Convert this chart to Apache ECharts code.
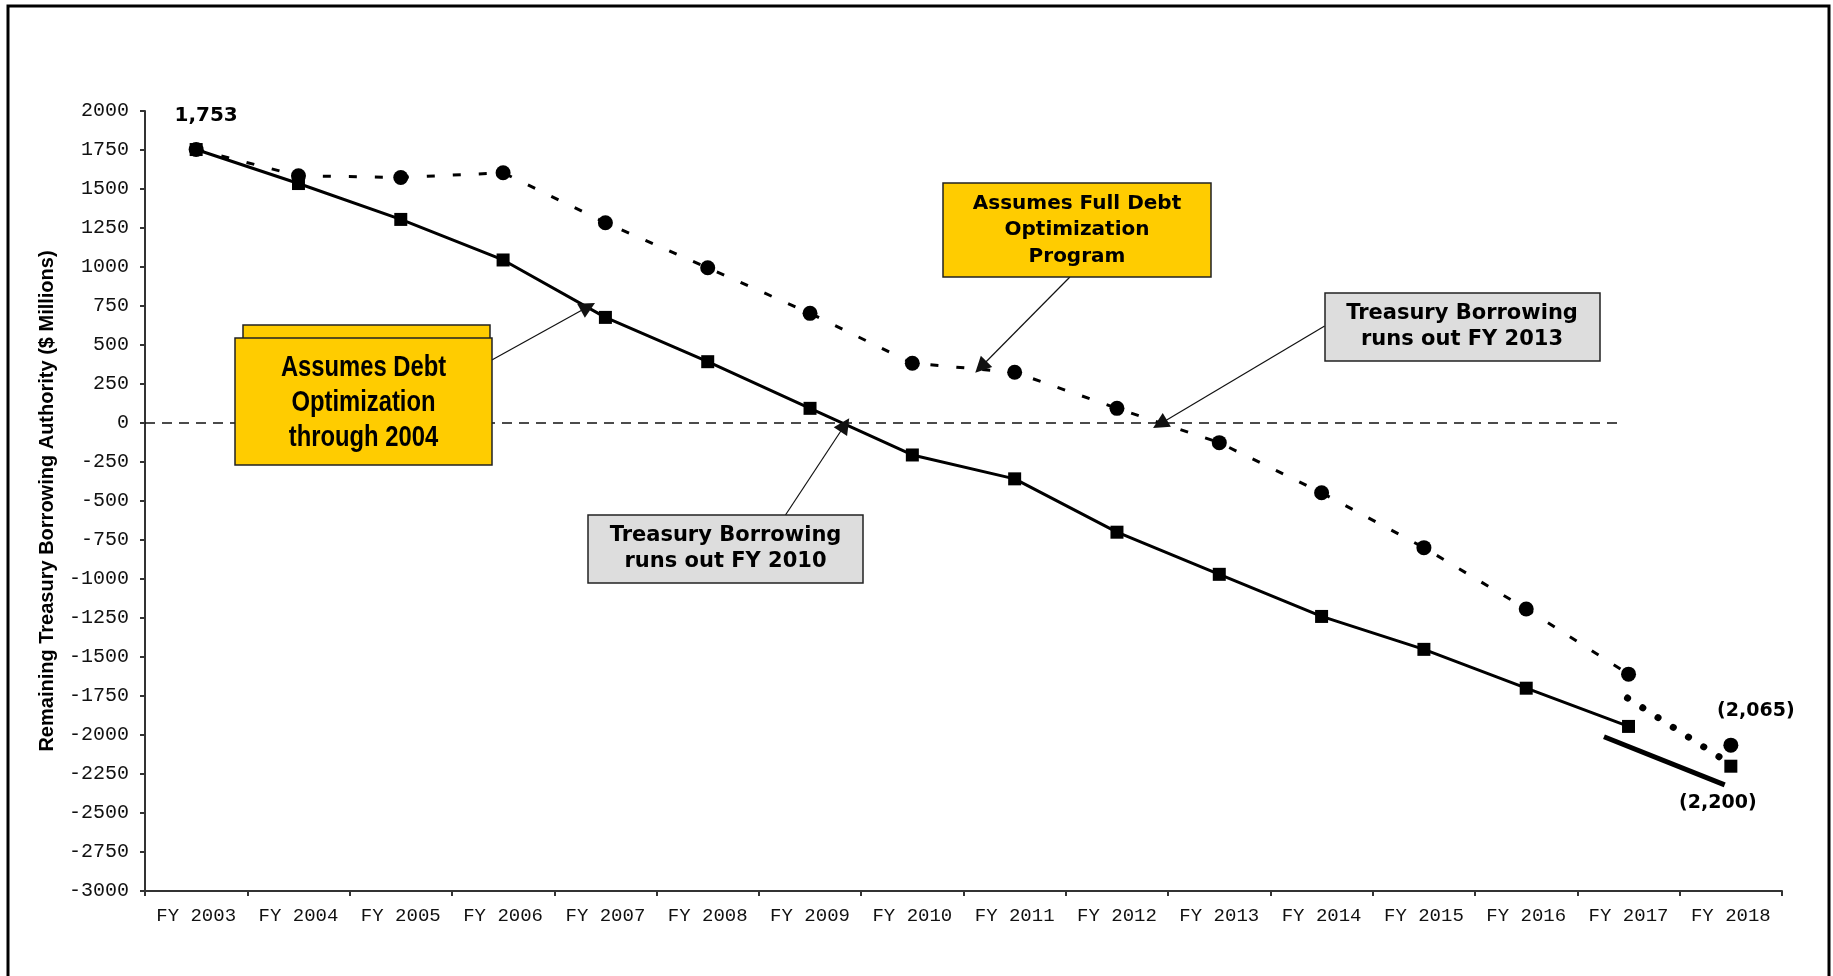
<!DOCTYPE html>
<html>
<head>
<meta charset="utf-8">
<title>Remaining Treasury Borrowing Authority</title>
<script src="https://cdn.jsdelivr.net/npm/echarts@6/dist/echarts.min.js"></script>
<style>
  html, body { margin: 0; padding: 0; background: #fff; }
  #chart { width: 1833px; height: 976px; }
</style>
</head>
<body>
<div id="chart"></div>
<script>
// fiscal years on the x axis
const years = ['FY 2003', 'FY 2004', 'FY 2005', 'FY 2006', 'FY 2007', 'FY 2008', 'FY 2009', 'FY 2010',
  'FY 2011', 'FY 2012', 'FY 2013', 'FY 2014', 'FY 2015', 'FY 2016', 'FY 2017', 'FY 2018']

// remaining authority, $ millions (squares, solid line)
const debtOptThrough2004 = [1753, 1535, 1305, 1045, 677, 393, 94, -205, -358, -700, -970, -1240, -1451, -1700, -1945, -2200]
// remaining authority, $ millions (circles, dashed line)
const fullDebtOpt = [1753, 1585, 1574, 1604, 1284, 995, 703, 383, 325, 94, -126, -447, -799, -1192, -1610, -2065]

// y axis ticks
const yMin = -3000
const yMax = 2000
const yStep = 250

// hand drawn marks, in [category position, $ millions]
const zeroLine = [[-0.5, 0], [13.93, 0]]
const solidProjection = [[13.76, -2011], [14.94, -2320]]
const dottedProjection = [[13.99, -1763], [14.92, -2154]]
const arrows = [
  [[2.89, 404], [3.83, 745]],     // through 2004 box -> FY 2007
  [[8.54, 936], [7.67, 359]],     // full debt box -> FY 2010/2011
  [[11.03, 622], [9.42, -6]],     // runs out FY 2013
  [[5.76, -590], [6.34, -13]],    // runs out FY 2010
]

const last = years.length - 1

function money(v) {
  const s = Math.abs(v).toLocaleString('en-US')
  return v < 0 ? '(' + s + ')' : s
}

const labelFont = { fontFamily: 'DejaVu Sans', fontWeight: 'bold', color: '#000' }

const chart = echarts.init(document.getElementById('chart'), null, { renderer: 'canvas' })

const boxText = (x, y, text, font, lineHeight, scaleX = 1) => ({
  type: 'text', z: 110, x, y, scaleX,
  style: { text, font, fill: '#000', align: 'center', verticalAlign: 'middle', lineHeight },
})
const box = (x, y, width, height, fill) => ({
  type: 'rect', z: 100,
  shape: { x, y, width, height },
  style: { fill, stroke: '#222', lineWidth: 1.5 },
})

chart.setOption({
  animation: false,
  backgroundColor: '#fff',
  grid: { left: 145, right: 51, top: 111, bottom: 85, containLabel: false },
  xAxis: [
    {
      type: 'category',
      data: years,
      boundaryGap: true,
      axisLine: { onZero: false, lineStyle: { color: '#333', width: 2 } },
      axisTick: { show: true, length: 5, lineStyle: { color: '#333', width: 2 } },
      axisLabel: { margin: 15, color: '#111', fontFamily: 'Liberation Mono', fontSize: 19, interval: 0 },
      splitLine: { show: false },
    },
    { type: 'value', min: -0.5, max: last + 0.5, show: false, axisLine: { onZero: false } },
  ],
  yAxis: {
    type: 'value',
    min: yMin,
    max: yMax,
    interval: yStep,
    name: 'Remaining Treasury Borrowing Authority ($ Millions)',
    nameLocation: 'middle',
    nameGap: 88,
    nameTextStyle: { fontFamily: 'Liberation Sans', fontWeight: 'bold', fontSize: 20, color: '#000' },
    axisLine: { show: true, onZero: false, lineStyle: { color: '#333', width: 2 } },
    axisTick: { show: true, length: 5, lineStyle: { color: '#333', width: 2 } },
    axisLabel: { margin: 16, color: '#111', fontFamily: 'Liberation Mono', fontSize: 20, formatter: v => String(v) },
    splitLine: { show: false },
  },
  series: [
    {
      name: 'Assumes Debt Optimization through 2004',
      type: 'line',
      data: debtOptThrough2004.map((v, i) => {
        if (i === last) return '-'
        if (i === 0) {
          return { value: v, label: { show: true, position: 'inside', offset: [10, -34], formatter: money(v), fontSize: 20, ...labelFont } }
        }
        return v
      }),
      symbol: 'rect',
      symbolSize: 13,
      showAllSymbol: true,
      lineStyle: { color: '#000', width: 3 },
      itemStyle: { color: '#000' },
      z: 3,
    },
    {
      name: 'Assumes Full Debt Optimization Program',
      type: 'line',
      data: fullDebtOpt.map((v, i) => (i === last ? '-' : v)),
      symbol: 'circle',
      symbolSize: 15,
      showAllSymbol: true,
      lineStyle: { color: '#000', width: 3, type: [8, 18] },
      itemStyle: { color: '#000' },
      z: 4,
    },
    {
      type: 'scatter',
      data: debtOptThrough2004.map((v, i) => (i === last ? v : '-')),
      symbol: 'rect',
      symbolSize: 13,
      itemStyle: { color: '#000', opacity: 1 },
      label: { show: true, position: 'inside', offset: [-13, 37], formatter: p => money(p.value), fontSize: 19, ...labelFont },
    },
    {
      type: 'scatter',
      data: fullDebtOpt.map((v, i) => (i === last ? v : '-')),
      symbol: 'circle',
      symbolSize: 15,
      itemStyle: { color: '#000', opacity: 1 },
      label: { show: true, position: 'inside', offset: [25, -34], formatter: p => money(p.value), fontSize: 19, ...labelFont },
    },
    {
      type: 'lines',
      coordinateSystem: 'cartesian2d',
      xAxisIndex: 1,
      yAxisIndex: 0,
      data: [{ coords: zeroLine }],
      lineStyle: { color: '#111', width: 1.5, type: [10, 7], opacity: 1 },
      z: 1,
    },
    {
      type: 'lines',
      coordinateSystem: 'cartesian2d',
      xAxisIndex: 1,
      yAxisIndex: 0,
      data: [{ coords: solidProjection }],
      lineStyle: { color: '#000', width: 5, opacity: 1 },
    },
    {
      type: 'lines',
      coordinateSystem: 'cartesian2d',
      xAxisIndex: 1,
      yAxisIndex: 0,
      data: [{ coords: dottedProjection }],
      lineStyle: { color: '#000', width: 7, type: [0.1, 18], cap: 'round', opacity: 1 },
    },
    {
      type: 'lines',
      coordinateSystem: 'cartesian2d',
      xAxisIndex: 1,
      yAxisIndex: 0,
      data: arrows.map(a => ({ coords: a })),
      symbol: ['none', 'triangle'],
      symbolSize: 16,
      lineStyle: { color: '#111', width: 1.2, opacity: 1 },
      z: 5,
    },
  ],
  graphic: [
    // frame
    { type: 'rect', z: 120, shape: { x: 8, y: 6, width: 1821, height: 1000 }, style: { fill: null, stroke: '#000', lineWidth: 3 } },
    // yellow box, debt optimization through 2004 (with its back copy)
    box(243, 325, 247, 60, '#FFCC00'),
    box(235, 338, 257, 127, '#FFCC00'),
    boxText(363.5, 403, 'Assumes Debt\nOptimization\nthrough 2004', 'bold 29px "Liberation Sans", sans-serif', 35, 0.82),
    // yellow box, full debt optimization
    box(943, 183, 268, 94, '#FFCC00'),
    boxText(1077, 230, 'Assumes Full Debt\nOptimization\nProgram', 'bold 20px "DejaVu Sans", sans-serif', 26.5),
    // grey boxes
    box(1325, 293, 275, 68, '#DDDDDD'),
    boxText(1462, 327, 'Treasury Borrowing\nruns out FY 2013', 'bold 21px "DejaVu Sans", sans-serif', 26),
    box(588, 515, 275, 68, '#DDDDDD'),
    boxText(725.5, 549, 'Treasury Borrowing\nruns out FY 2010', 'bold 21px "DejaVu Sans", sans-serif', 26),
  ],
})

window.addEventListener('resize', () => chart.resize())
</script>
</body>
</html>
